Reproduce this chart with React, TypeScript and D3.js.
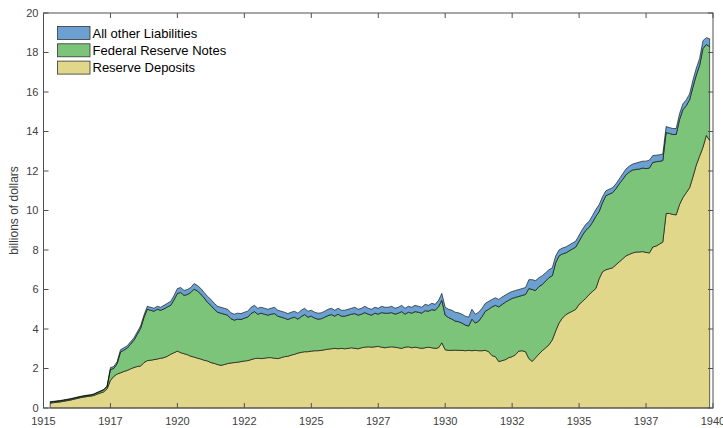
import React from "react";
import * as d3 from "d3";

const startYear = 1915.25;
const stepYear = 0.125;

const reserveDeposits = [
  0.25,0.27,0.29,0.31,0.34,0.37,0.40,0.44,0.48,0.52,0.55,0.58,0.60,0.63,0.70,0.76,0.82,0.97,
  1.40,1.60,1.72,1.78,1.85,1.90,1.98,2.05,2.10,2.12,2.30,2.40,
  2.42,2.45,2.48,2.52,2.55,2.62,2.72,2.80,
  2.88,2.80,2.75,2.70,2.62,2.58,2.52,2.48,2.42,2.38,2.30,2.26,2.20,2.16,2.20,2.25,
  2.28,2.30,2.32,2.35,2.38,2.40,2.45,2.50,2.52,2.50,2.52,2.55,2.55,2.52,2.50,2.55,
  2.60,2.62,2.68,2.72,2.78,2.82,2.85,2.85,2.88,2.90,2.90,2.92,2.95,2.98,3.00,3.02,
  3.00,3.02,3.00,3.02,3.05,3.02,3.00,3.05,3.08,3.10,3.08,3.10,3.12,3.08,3.05,3.08,
  3.10,3.08,3.05,3.02,3.08,3.10,3.05,3.08,3.05,3.02,3.05,3.08,3.05,3.02,3.05,3.30,
  2.95,2.92,2.92,2.93,2.92,2.92,2.90,2.92,2.90,2.92,2.90,2.90,2.92,2.85,2.65,2.60,
  2.35,2.40,2.45,2.55,2.60,2.70,2.88,2.90,2.85,2.50,2.36,2.55,2.73,2.90,3.05,3.20,
  3.45,3.90,4.30,4.55,4.72,4.82,4.90,5.00,5.25,5.40,5.55,5.75,5.90,6.05,6.55,6.90,
  7.00,7.05,7.10,7.25,7.40,7.55,7.70,7.78,7.85,7.90,7.90,7.92,7.88,7.85,8.15,8.20,
  8.30,8.40,9.85,9.85,9.80,9.78,10.30,10.65,10.90,11.15,11.70,12.30,12.75,13.20,13.80,13.55,
];

const federalReserveNotes = [
  0.05,0.05,0.05,0.05,0.05,0.05,0.05,0.05,0.05,0.05,0.05,0.05,0.05,0.06,0.07,0.08,0.10,0.12,
  0.55,0.40,0.53,1.05,1.08,1.13,1.25,1.38,1.63,1.91,2.28,2.60,
  2.53,2.45,2.52,2.43,2.47,2.50,2.48,2.68,
  2.92,3.05,2.95,3.05,3.23,3.44,3.40,3.29,3.15,2.97,2.90,2.74,2.65,2.64,2.55,2.45,
  2.24,2.15,2.18,2.13,2.17,2.20,2.33,2.38,2.23,2.30,2.23,2.15,2.20,2.26,2.15,2.05,
  1.95,1.86,1.87,1.88,1.72,1.81,1.88,1.75,1.77,1.65,1.60,1.60,1.65,1.70,1.73,1.63,
  1.75,1.63,1.65,1.68,1.70,1.76,1.70,1.70,1.75,1.65,1.62,1.70,1.63,1.75,1.75,1.72,
  1.73,1.67,1.75,1.86,1.67,1.75,1.75,1.80,1.80,1.78,1.88,1.82,1.93,1.93,2.08,2.15,
  1.75,1.66,1.58,1.47,1.45,1.38,1.30,1.23,1.60,1.38,1.50,1.73,1.98,2.15,2.47,2.60,
  2.77,2.84,2.91,2.91,2.95,2.90,2.77,2.80,2.90,3.55,3.64,3.40,3.42,3.35,3.38,3.40,
  3.25,3.45,3.40,3.25,3.13,3.13,3.15,3.15,3.20,3.35,3.45,3.40,3.50,3.65,3.40,3.50,
  3.75,3.78,3.80,3.85,3.95,4.02,4.10,4.17,4.20,4.18,4.20,4.23,4.24,4.30,4.28,4.27,
  4.19,4.13,4.10,4.05,4.05,4.07,4.30,4.45,4.40,4.45,4.55,4.55,4.60,5.00,4.60,4.75,
];

const otherLiabilities = [
  0.02,0.02,0.02,0.02,0.02,0.02,0.02,0.02,0.02,0.02,0.02,0.02,0.02,0.02,0.02,0.02,0.02,0.02,
  0.10,0.10,0.10,0.12,0.12,0.12,0.12,0.12,0.12,0.12,0.12,0.15,
  0.15,0.15,0.15,0.15,0.18,0.18,0.20,0.22,
  0.25,0.25,0.25,0.25,0.25,0.28,0.28,0.28,0.28,0.30,0.30,0.30,0.30,0.30,0.30,0.30,
  0.30,0.30,0.30,0.30,0.30,0.30,0.32,0.32,0.30,0.30,0.30,0.30,0.30,0.32,0.30,0.30,
  0.30,0.30,0.30,0.30,0.30,0.32,0.32,0.30,0.30,0.30,0.30,0.30,0.30,0.32,0.32,0.30,
  0.30,0.30,0.30,0.30,0.30,0.32,0.30,0.30,0.32,0.30,0.30,0.30,0.30,0.32,0.30,0.30,
  0.32,0.30,0.30,0.32,0.30,0.30,0.30,0.32,0.30,0.30,0.32,0.30,0.32,0.30,0.32,0.35,
  0.40,0.42,0.45,0.45,0.45,0.45,0.45,0.45,0.50,0.45,0.45,0.42,0.40,0.40,0.38,0.38,
  0.38,0.38,0.36,0.36,0.35,0.35,0.35,0.35,0.35,0.45,0.50,0.50,0.45,0.45,0.42,0.40,
  0.40,0.35,0.30,0.30,0.30,0.30,0.30,0.30,0.30,0.30,0.30,0.30,0.35,0.35,0.35,0.30,
  0.25,0.25,0.25,0.25,0.25,0.28,0.30,0.30,0.30,0.32,0.35,0.35,0.38,0.40,0.35,0.33,
  0.33,0.33,0.30,0.30,0.30,0.30,0.30,0.30,0.30,0.30,0.35,0.35,0.35,0.40,0.35,0.40,
];

const xTickValues = [1915, 1917.5, 1920, 1922.5, 1925, 1927.5, 1930, 1932.5, 1935, 1937.5, 1940];
const xTickLabels = ["1915", "1917", "1920", "1922", "1925", "1927", "1930", "1932", "1935", "1937", "1940"];
const yTickValues = [0, 2, 4, 6, 8, 10, 12, 14, 16, 18, 20];

const seriesKeys = ["rd", "frn", "other"];
const seriesNames = ["Reserve Deposits", "Federal Reserve Notes", "All other Liabilities"];
const seriesColors = ["#e0d78a", "#7dc47b", "#6ba0d1"];

export default function App() {
  const W = 723, H = 428;
  const left = 43.5, right = 713, top = 13, bottom = 408;
  const years = reserveDeposits.map((_, i) => startYear + i * stepYear);
  const rows = years.map((yr, i) => ({
    year: yr,
    rd: reserveDeposits[i],
    frn: federalReserveNotes[i],
    other: otherLiabilities[i],
  }));
  const x = d3.scaleLinear().domain([1915, 1940]).range([left, right]);
  const y = d3.scaleLinear().domain([0, 20]).range([bottom, top]);
  const stacked = d3.stack<any>().keys(seriesKeys)(rows);
  const area = d3
    .area<any>()
    .x((d) => x(d.data.year))
    .y0((d) => y(d[0]))
    .y1((d) => y(d[1]));

  const axisColor = "#505050";
  const textColor = "#404040";
  const font = "'Liberation Sans', Arial, Helvetica, sans-serif";
  const tickLen = 5;

  const legendItems = [2, 1, 0];

  return (
    <svg
      width={W}
      height={H}
      style={{ position: "absolute", left: 0, top: 0, background: "#fff" }}
      fontFamily={font}
    >
      <rect x={0} y={0} width={W} height={H} fill="#fff" />
      {stacked.map((s, i) => (
        <path
          key={seriesKeys[i]}
          d={area(s) || ""}
          fill={seriesColors[i]}
          stroke="#000"
          strokeWidth={0.6}
          strokeLinejoin="round"
        />
      ))}
      {/* box */}
      <rect
        x={left}
        y={top}
        width={right - left}
        height={bottom - top}
        fill="none"
        stroke={axisColor}
        strokeWidth={1}
      />
      {/* x ticks */}
      {xTickValues.map((v, i) => (
        <g key={"xt" + i}>
          <line x1={x(v)} x2={x(v)} y1={bottom} y2={bottom - tickLen} stroke={axisColor} />
          <line x1={x(v)} x2={x(v)} y1={top} y2={top + tickLen} stroke={axisColor} />
          <text
            x={x(v)}
            y={bottom + 17}
            textAnchor="middle"
            fontSize={11}
            fill={textColor}
          >
            {xTickLabels[i]}
          </text>
        </g>
      ))}
      {/* y ticks */}
      {yTickValues.map((v, i) => (
        <g key={"yt" + i}>
          <line x1={left} x2={left + tickLen} y1={y(v)} y2={y(v)} stroke={axisColor} />
          <line x1={right} x2={right - tickLen} y1={y(v)} y2={y(v)} stroke={axisColor} />
          <text
            x={left - 5}
            y={y(v)}
            dy="0.35em"
            textAnchor="end"
            fontSize={11}
            fill={textColor}
          >
            {v}
          </text>
        </g>
      ))}
      <text
        transform={`translate(18,${(top + bottom) / 2}) rotate(-90)`}
        textAnchor="middle"
        fontSize={12}
        fill={textColor}
      >
        billions of dollars
      </text>
      {/* legend */}
      {legendItems.map((si, k) => (
        <g key={"lg" + k} transform={`translate(57.5,${26.5 + k * 17.3})`}>
          <rect width={32.5} height={13} fill={seriesColors[si]} stroke="#333" strokeWidth={0.8} />
          <text x={35} y={6.5} dy="0.35em" fontSize={13} fill="#000">
            {seriesNames[si]}
          </text>
        </g>
      ))}
    </svg>
  );
}
